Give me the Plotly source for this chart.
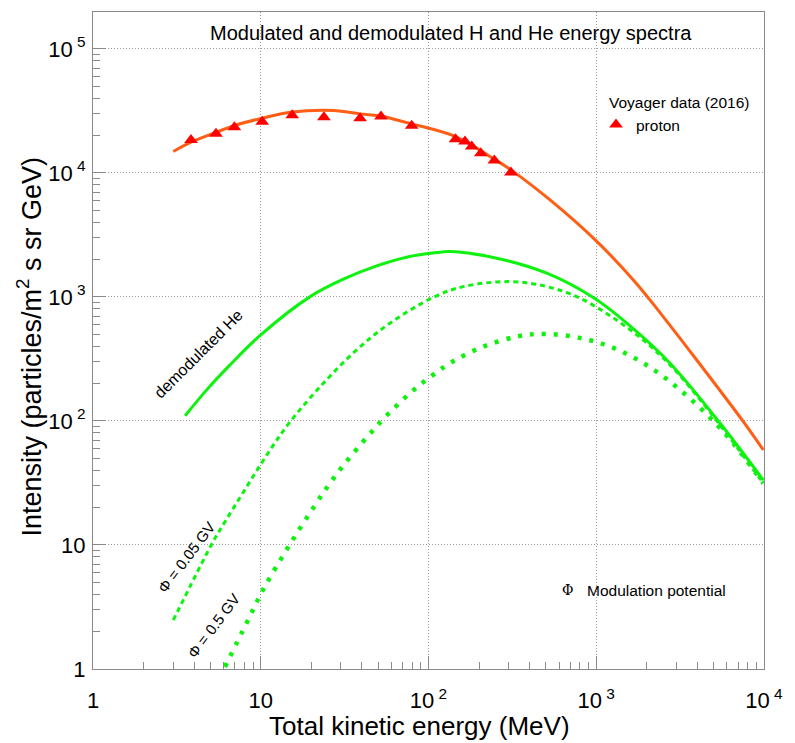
import plotly.graph_objects as go

# Voyager 1 proton measurements (2016)
proton_energy = [3.84, 5.41, 6.96, 10.2, 15.4, 23.8, 39.1, 52.1, 79.4, 145, 165, 181, 205, 247, 310]
proton_flux = [18450, 20640, 23370, 25780, 29190, 28140, 27600, 28450, 23940, 18700, 17880, 16300, 14420, 12560, 10050]

# Hydrogen spectrum model
h_energy = [3.01, 3.84, 5.46, 6.86, 10.2, 15.4, 27.1, 39.0, 52.1, 67.6, 79.4, 145, 247, 310, 530, 1000, 1663, 2090, 3970, 7530, 9910]
h_flux = [14860, 17690, 21290, 23930, 27600, 30900, 31800, 29900, 28700, 26300, 24850, 19630, 12900, 10570, 6050, 2830, 1371, 946, 310, 98.7, 58.3]

# Demodulated helium spectrum
he_energy = [3.54, 4.76, 6.56, 10.0, 19.7, 31.1, 49.1, 74.1, 112, 134, 255, 507, 960, 1589, 2754, 5470, 9910]
he_flux = [110, 178, 283, 494, 1005, 1390, 1778, 2090, 2277, 2318, 2051, 1553, 987, 584, 292, 95.8, 33.4]

# Helium modulated with phi = 0.05 GV
he005_energy = [3.01, 5.03, 5.71, 8.25, 11.36, 14.9, 23.6, 37.3, 58.9, 109, 161, 306, 507, 800, 1589, 2754, 5470, 9910]
he005_flux = [2.48, 9.8, 13.2, 29.5, 58.3, 97.7, 201, 374, 614, 1005, 1211, 1328, 1211, 977, 545, 283, 92.8, 31.4]

# Helium modulated with phi = 0.5 GV
he05_energy = [6.12, 8.25, 10.36, 14.7, 21.1, 25.6, 31.5, 43.8, 55, 79.4, 104.5, 137, 212, 348, 490, 819, 1324, 2090, 3155, 4590, 6560, 9910]
he05_flux = [1.04, 2.36, 4.39, 9.8, 21.0, 30.9, 44.8, 76.2, 107, 172, 231, 297, 397, 484, 503, 464, 378, 271, 178, 112, 66, 31.4]

x_tickvals = [1, 10, 100, 1000, 10000]
x_ticktext = ["1", "10", "10<sup> 2</sup>", "10<sup> 3</sup>", "10<sup> 4</sup>"]
y_tickvals = [1, 10, 100, 1000, 10000, 100000]
y_ticktext = ["1", "10", "10<sup> 2</sup>", "10<sup> 3</sup>", "10<sup> 4</sup>", "10<sup> 5</sup>"]

FONT = "Liberation Sans, Arial, Helvetica, sans-serif"
ORANGE = "#ff5e14"
GREEN = "#0ff20f"
AXIS = "#8a8a8a"

# plot frame in pixels (figure is 795 x 743)
L, R, T, B = 93, 31, 12, 74
PW, PH = 795 - L - R, 743 - T - B


def px(xp):
    return (xp - L) / PW


def py(yp):
    return (743 - B - yp) / PH


minor_vals = [m * 10 ** d for d in range(0, 6) for m in range(2, 10)]

fig = go.Figure()

fig.add_trace(go.Scatter(x=h_energy, y=h_flux, mode="lines",
                         line=dict(color=ORANGE, width=3, shape="spline", smoothing=1.0),
                         showlegend=False, hoverinfo="skip"))
fig.add_trace(go.Scatter(x=he_energy, y=he_flux, mode="lines",
                         line=dict(color=GREEN, width=3, shape="spline", smoothing=1.0),
                         showlegend=False))
fig.add_trace(go.Scatter(x=he005_energy, y=he005_flux, mode="lines",
                         line=dict(color=GREEN, width=3, shape="spline", smoothing=1.0, dash="5px,4px"),
                         showlegend=False))
fig.add_trace(go.Scatter(x=he05_energy, y=he05_flux, mode="lines",
                         line=dict(color=GREEN, width=4.5, shape="spline", smoothing=1.0, dash="4px,8px"),
                         showlegend=False))
fig.add_trace(go.Scatter(x=proton_energy, y=proton_flux, mode="markers", name="proton",
                         marker=dict(symbol="triangle-up", size=12, color="#ff0000")))

axis_common = dict(
    type="log", showline=True, linecolor=AXIS, linewidth=1, mirror=True,
    ticks="inside", ticklen=13, tickcolor=AXIS, tickwidth=1,
    showgrid=True, gridcolor="#9a9a9a", gridwidth=1, griddash="1px,2px",
    zeroline=False, tickmode="array", automargin=False,
    tickfont=dict(family=FONT, size=22, color="#000"),
    minor=dict(ticks="inside", ticklen=7, tickcolor=AXIS, tickwidth=1, showgrid=False,
               tickmode="array", tickvals=minor_vals),
)

fig.update_xaxes(**axis_common, range=[0, 4], tickvals=x_tickvals, ticktext=x_ticktext,
                 ticklabelstandoff=12)
fig.update_yaxes(**axis_common, range=[0, 5.297], tickvals=y_tickvals, ticktext=y_ticktext,
                 ticklabelstandoff=2)

# axis titles
fig.add_annotation(text="Total kinetic energy (MeV)", xref="paper", yref="paper", x=px(419.5), y=py(726),
                   xanchor="center", yanchor="middle", showarrow=False,
                   font=dict(family=FONT, size=26, color="#000"))
fig.add_annotation(text="Intensity (particles/m<sup>2</sup> s sr GeV)", xref="paper", yref="paper",
                   x=px(29), y=py(346.5), textangle=-90, xanchor="center", yanchor="middle", showarrow=False,
                   font=dict(family=FONT, size=27, color="#000"))

fig.add_annotation(text="Modulated and demodulated H and He energy spectra", xref="paper", yref="paper",
                   x=px(450.5), y=py(33), xanchor="center", yanchor="middle", showarrow=False,
                   font=dict(family=FONT, size=20, color="#000"))

# curve labels
fig.add_annotation(text="demodulated He", x=0.632, y=2.54, textangle=-45, showarrow=False,
                   xanchor="center", yanchor="middle", font=dict(family=FONT, size=16, color="#000"))
fig.add_annotation(text="Φ = 0.05 GV", x=0.554, y=0.903, textangle=-53, showarrow=False,
                   xanchor="center", yanchor="middle", font=dict(family=FONT, size=15, color="#000"))
fig.add_annotation(text="Φ = 0.5 GV", x=0.721, y=0.347, textangle=-53, showarrow=False,
                   xanchor="center", yanchor="middle", font=dict(family=FONT, size=15, color="#000"))

fig.add_annotation(text="Φ", xref="paper", yref="paper", x=px(567), y=py(590),
                   xanchor="center", yanchor="middle", showarrow=False,
                   font=dict(family="DejaVu Serif, serif", size=14, color="#000"))
fig.add_annotation(text="Modulation potential", xref="paper", yref="paper", x=px(585), y=py(590),
                   xanchor="left", yanchor="middle", showarrow=False,
                   font=dict(family=FONT, size=15.5, color="#000"))

# legend heading
fig.add_annotation(text="Voyager data (2016)", xref="paper", yref="paper", x=px(607), y=py(102),
                   xanchor="left", yanchor="middle", showarrow=False,
                   font=dict(family=FONT, size=15.5, color="#000"))

fig.update_layout(
    width=795, height=743,
    margin=dict(l=L, r=R, t=T, b=B, autoexpand=False),
    paper_bgcolor="white", plot_bgcolor="white",
    font=dict(family=FONT, color="#000"),
    legend=dict(x=px(596), y=py(125), xanchor="left", yanchor="middle",
                bgcolor="rgba(0,0,0,0)", borderwidth=0,
                font=dict(family=FONT, size=15.5, color="#000")),
)

fig.write_html("out.html")
